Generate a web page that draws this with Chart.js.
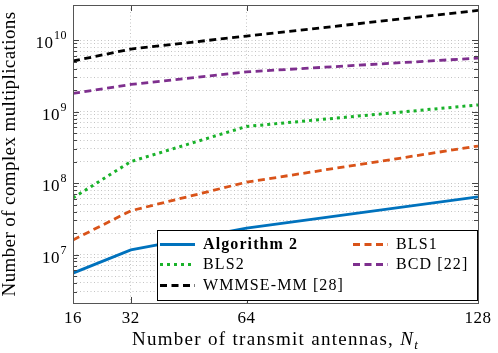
<!DOCTYPE html>
<html>
<head>
<meta charset="utf-8">
<script src="https://cdn.jsdelivr.net/npm/chart.js@4.4.0/dist/chart.umd.min.js"></script>
<style>
  html, body { margin: 0; padding: 0; background: #fff; }
  #wrap { width: 498px; height: 353px; }
</style>
</head>
<body>
<div id="wrap"><canvas id="chart" width="498" height="353"></canvas></div>
<script>
// values
const antennas = [16, 32, 64, 128];
const xTicks = [16, 32, 64, 128];
const yDecades = [7, 8, 9, 10];
const algorithm2 = [5.5e6, 1.16e7, 2.35e7, 6.4e7];
const bls1 = [1.6e7, 4.1e7, 1.03e8, 3.3e8];
const bls2 = [6.2e7, 2.0e8, 6.2e8, 1.24e9];
const bcd = [1.8e9, 2.4e9, 3.6e9, 5.6e9];
const wmmse = [5.1e9, 7.5e9, 1.14e10, 2.6e10];

const yMin = 2.1e6;
const yMax = 3.1e10;
const gridTop = 1.01e10; // no minor grid above 10^10 in the original

const serif = '"Liberation Serif", "Times New Roman", serif';

function makeSet(label, values, color, dash, width) {
    return {
        label: label,
        data: antennas.map((x, i) => ({ x: x, y: values[i] })),
        borderColor: color,
        backgroundColor: color,
        borderWidth: width,
        borderDash: dash,
        borderCapStyle: 'butt',
        pointRadius: 0,
        tension: 0,
        fill: false
    };
}

const datasets = [
    makeSet('Algorithm 2', algorithm2, '#0072BD', [], 2.8),
    makeSet('BLS1', bls1, '#D95319', [7, 4.5], 2.8),
    makeSet('BLS2', bls2, '#19B22A', [3, 4], 3),
    makeSet('BCD [22]', bcd, '#7E2F8E', [7, 4.5], 2.8),
    makeSet('WMMSE-MM [28]', wmmse, '#000000', [7, 4.5], 2.8)
];

function minorValues() {
    const vals = [];
    for (let n = 6; n <= 10; n++) {
        for (let k = 1; k <= 9; k++) {
            const v = k * Math.pow(10, n);
            if (v >= yMin && v <= yMax) vals.push({ value: v, major: k === 1 });
        }
    }
    return vals;
}

function setSpacing(ctx, px) {
    if ('letterSpacing' in ctx) ctx.letterSpacing = px + 'px';
}

function drawAxesDecor(chart) {
    const ctx = chart.ctx;
    const area = chart.chartArea;
    const xs = chart.scales.x;
    const ys = chart.scales.y;

    ctx.save();
    ctx.strokeStyle = '#444';
    ctx.lineWidth = 1;

    // tick marks, inside the box
    ctx.beginPath();
    ys.ticks.forEach(t => {
        if (t.value > gridTop) return;
        const y = Math.round(ys.getPixelForValue(t.value)) + 0.5;
        const len = t.major ? 6 : 4;
        ctx.moveTo(area.left, y); ctx.lineTo(area.left + len, y);
        ctx.moveTo(area.right, y); ctx.lineTo(area.right - len, y);
    });
    xTicks.forEach(v => {
        const x = Math.round(xs.getPixelForValue(v)) + 0.5;
        ctx.moveTo(x, area.bottom); ctx.lineTo(x, area.bottom - 6);
        ctx.moveTo(x, area.top); ctx.lineTo(x, area.top + 6);
    });
    ctx.stroke();

    // frame
    ctx.strokeStyle = '#555';
    ctx.strokeRect(Math.round(area.left) + 0.5, Math.round(area.top) + 0.5,
        Math.round(area.right - area.left), Math.round(area.bottom - area.top));

    // x tick labels
    ctx.fillStyle = '#000';
    ctx.font = '17px ' + serif;
    setSpacing(ctx, 0.5);
    ctx.textAlign = 'center';
    ctx.textBaseline = 'alphabetic';
    xTicks.forEach(v => {
        ctx.fillText(String(v), xs.getPixelForValue(v), area.bottom + 20);
    });

    // y tick labels 10^n
    yDecades.forEach(n => {
        const y = ys.getPixelForValue(Math.pow(10, n));
        const exp = String(n);
        ctx.font = '12px ' + serif;
        const ew = ctx.measureText(exp).width;
        const right = area.left - 6;
        ctx.textAlign = 'left';
        ctx.fillText(exp, right - ew, y - 1);
        ctx.font = '17px ' + serif;
        ctx.textAlign = 'right';
        ctx.fillText('10', right - ew - 0.5, y + 8);
    });

    // y title
    ctx.save();
    ctx.translate(14.5, (area.top + area.bottom) / 2);
    ctx.rotate(-Math.PI / 2);
    ctx.font = '19px ' + serif;
    setSpacing(ctx, 0.4);
    ctx.textAlign = 'center';
    ctx.fillText('Number of complex multiplications', 0, 0);
    ctx.restore();

    // x title with italic N_t
    const main = 'Number of transmit antennas, ';
    setSpacing(ctx, 1.3);
    ctx.font = '19px ' + serif;
    const w1 = ctx.measureText(main).width;
    ctx.font = 'italic 19px ' + serif;
    const w2 = ctx.measureText('N').width;
    ctx.font = 'italic 13px ' + serif;
    const w3 = ctx.measureText('t').width;
    let x0 = (area.left + area.right) / 2 - (w1 + w2 + w3) / 2;
    const base = area.bottom + 42;
    ctx.textAlign = 'left';
    ctx.font = '19px ' + serif;
    ctx.fillText(main, x0, base);
    ctx.font = 'italic 19px ' + serif;
    ctx.fillText('N', x0 + w1, base);
    ctx.font = 'italic 13px ' + serif;
    ctx.fillText('t', x0 + w1 + w2, base + 4);

    ctx.restore();
}

function drawLegend(chart) {
    const ctx = chart.ctx;
    const area = chart.chartArea;
    const box = { left: 157, top: 230, right: area.right, bottom: area.bottom - 2 };
    const rows = [box.top + 14, box.top + 34, box.top + 55];
    const cols = [box.left + 3, box.left + 196];

    ctx.save();
    ctx.fillStyle = '#fff';
    ctx.fillRect(box.left, box.top, box.right - box.left, box.bottom - box.top);
    ctx.strokeStyle = '#000';
    ctx.lineWidth = 1;
    ctx.strokeRect(box.left + 0.5, box.top + 0.5, box.right - box.left - 1, box.bottom - box.top - 1);

    chart.data.datasets.forEach((ds, i) => {
        const x = cols[i % 2];
        const y = Math.round(rows[Math.floor(i / 2)]) + 0.5;
        ctx.beginPath();
        ctx.strokeStyle = ds.borderColor;
        ctx.lineWidth = ds.borderWidth;
        ctx.lineCap = 'butt';
        ctx.setLineDash(ds.borderDash);
        ctx.moveTo(x, y);
        ctx.lineTo(x + 35, y);
        ctx.stroke();
        ctx.setLineDash([]);

        ctx.fillStyle = '#000';
        ctx.font = (i === 0 ? 'bold ' : '') + '16px ' + serif;
        setSpacing(ctx, 1.1);
        ctx.textAlign = 'left';
        ctx.textBaseline = 'middle';
        ctx.fillText(ds.label, x + 43, y);
    });
    ctx.restore();
}

const decorPlugin = {
    id: 'decor',
    afterDraw(chart) {
        drawAxesDecor(chart);
        drawLegend(chart);
    }
};

const gridColor = (c) => (c.tick && c.tick.value > gridTop) ? 'rgba(0,0,0,0)' : '#c4c4c4';

function drawChart() {
    new Chart(document.getElementById('chart').getContext('2d'), {
        type: 'line',
        data: { datasets: datasets },
        options: {
            responsive: false,
            animation: false,
            devicePixelRatio: 1,
            layout: { padding: { left: 73, right: 20, top: 5, bottom: 50 } },
            plugins: { legend: { display: false }, tooltip: { enabled: false } },
            scales: {
                x: {
                    type: 'linear',
                    min: 16,
                    max: 128,
                    afterBuildTicks: (scale) => { scale.ticks = xTicks.map(v => ({ value: v })); },
                    ticks: { display: false },
                    grid: { color: '#c4c4c4', lineWidth: 1, drawTicks: false },
                    border: { display: false, dash: [1, 2.5] }
                },
                y: {
                    type: 'logarithmic',
                    min: yMin,
                    max: yMax,
                    afterBuildTicks: (scale) => { scale.ticks = minorValues(); },
                    ticks: { display: false },
                    grid: { color: gridColor, lineWidth: 1, drawTicks: false },
                    border: { display: false, dash: [1, 2.5] }
                }
            }
        },
        plugins: [decorPlugin]
    });
}

const fontLoads = ['16px', 'bold 16px', 'italic 16px'].map(f => document.fonts.load(f + ' "Liberation Serif"'));
Promise.all(fontLoads).then(drawChart, drawChart);
</script>
</body>
</html>
